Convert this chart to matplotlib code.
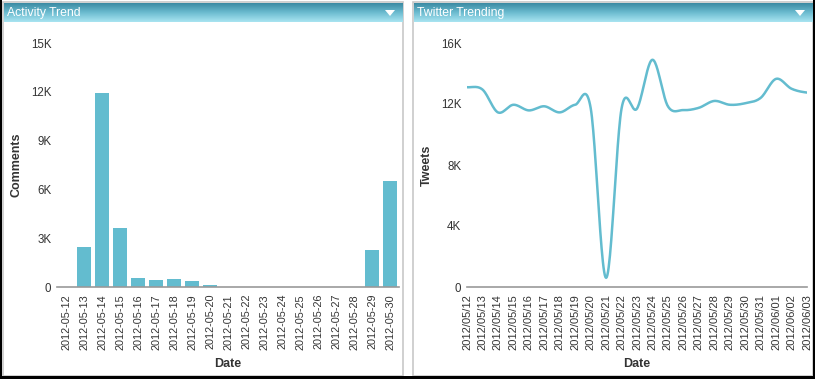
import numpy as np
import matplotlib
matplotlib.use('Agg')
import matplotlib.pyplot as plt
from matplotlib.patches import Rectangle, Polygon
from matplotlib.colors import LinearSegmentedColormap

plt.rcParams['font.family'] = ['Liberation Sans', 'DejaVu Sans']

# activity (comments per day)
act_dates = ['2012-05-12', '2012-05-13', '2012-05-14', '2012-05-15', '2012-05-16',
             '2012-05-17', '2012-05-18', '2012-05-19', '2012-05-20', '2012-05-21',
             '2012-05-22', '2012-05-23', '2012-05-24', '2012-05-25', '2012-05-26',
             '2012-05-27', '2012-05-28', '2012-05-29', '2012-05-30']
comments = [0, 2450, 11950, 3650, 550, 430, 480, 370, 100, 0,
            0, 0, 0, 0, 0, 0, 0, 2250, 6500]
act_ticks = [0, 3000, 6000, 9000, 12000, 15000]
act_ticklabels = ['0', '3K', '6K', '9K', '12K', '15K']

# twitter trend
tw_dates = ['2012/05/12', '2012/05/13', '2012/05/14', '2012/05/15', '2012/05/16',
            '2012/05/17', '2012/05/18', '2012/05/19', '2012/05/20', '2012/05/21',
            '2012/05/22', '2012/05/23', '2012/05/24', '2012/05/25', '2012/05/26',
            '2012/05/27', '2012/05/28', '2012/05/29', '2012/05/30', '2012/05/31',
            '2012/06/01', '2012/06/02', '2012/06/03']
tweets = [13100, 12950, 11450, 11950, 11580, 11850, 11450, 11950, 11750, 600,
          11700, 11700, 14900, 11850, 11600, 11750, 12200, 11950, 12050, 12400,
          13650, 13000, 12750]
tw_ticks = [0, 4000, 8000, 12000, 16000]
tw_ticklabels = ['0', '4K', '8K', '12K', '16K']

bar_color = '#63bccf'
txt = '#333333'
W, H = 815, 379


def spline(y, n=24):
    # catmull-rom smoothing for drawing the line
    y = np.asarray(y, float)
    xs, ys = [], []
    for i in range(len(y) - 1):
        p0 = y[max(i - 1, 0)]
        p1, p2 = y[i], y[i + 1]
        p3 = y[min(i + 2, len(y) - 1)]
        t = np.linspace(0, 1, n, endpoint=False)
        v = 0.5 * ((2 * p1) + (-p0 + p2) * t + (2 * p0 - 5 * p1 + 4 * p2 - p3) * t ** 2
                   + (-p0 + 3 * p1 - 3 * p2 + p3) * t ** 3)
        xs.append(i + t)
        ys.append(v)
    xs.append([len(y) - 1])
    ys.append([y[-1]])
    return np.concatenate(xs), np.concatenate(ys)


def pos(x0, y0, x1, y1):
    return [x0 / W, 1 - y1 / H, (x1 - x0) / W, (y1 - y0) / H]


fig = plt.figure(figsize=(W / 100, H / 100), dpi=100)

# frame / panels
bg = fig.add_axes([0, 0, 1, 1], zorder=-5)
bg.axis('off')
grad = LinearSegmentedColormap.from_list('hdr', ['#3a8aa3', '#6cbcd0', '#a9e4f1'])
g = np.linspace(0, 1, 64).reshape(-1, 1)
for x0, x1, title in [(3, 403, 'Activity Trend'), (413, 813, 'Twitter Trending')]:
    bg.add_patch(Rectangle((x0, 2), x1 - x0, 374, facecolor='white', edgecolor='#c8c8c8', lw=1.2))
    bg.imshow(g, cmap=grad, aspect='auto', extent=(x0 + 1, x1, 22, 3), zorder=2)
    bg.text(x0 + 4, 13, title, color='white', fontsize=8.8, va='center', ha='left', zorder=3)
    tx = x1 - 13
    bg.add_patch(Polygon([(tx - 5, 10), (tx + 5, 10), (tx, 16)], closed=True,
                         facecolor='white', edgecolor='none', zorder=3))
bg.add_patch(Rectangle((0, 0), 2, H, facecolor='black', edgecolor='none'))
bg.add_patch(Rectangle((0, 376), W, 3, facecolor='black', edgecolor='none'))
bg.add_patch(Rectangle((813, 0), 2, H, facecolor='black', edgecolor='none'))
bg.set_xlim(0, W)
bg.set_ylim(H, 0)


def style(ax, xlabel, ylabel, xsize):
    for s in ['top', 'right', 'left']:
        ax.spines[s].set_visible(False)
    ax.spines['bottom'].set_color('#999999')
    ax.spines['bottom'].set_linewidth(1.2)
    ax.tick_params(axis='y', length=0, labelsize=8.3, colors=txt, pad=4)
    ax.tick_params(axis='x', length=0, labelsize=xsize, colors=txt, pad=5)
    ax.set_facecolor('none')
    ax.set_xlabel(xlabel, fontsize=9, fontweight='bold', color=txt, va='center')
    ax.set_ylabel(ylabel, fontsize=9, fontweight='bold', color=txt, va='center')
    ax.xaxis.set_label_coords(0.5, -0.315)
    ax.yaxis.set_label_coords(-0.117, 0.5)


# Activity Trend bar chart
ax1 = fig.add_axes(pos(57, 43, 399, 287))
x = np.arange(len(act_dates))
ax1.bar(x, comments, width=0.83, color=bar_color)
ax1.set_xlim(-0.5, len(act_dates) - 0.5)
ax1.set_ylim(0, 15000)
ax1.set_yticks(act_ticks)
ax1.set_yticklabels(act_ticklabels)
ax1.set_xticks(x)
ax1.set_xticklabels(act_dates, rotation=90)
style(ax1, 'Date', 'Comments', 7.8)

# Twitter Trending line chart
ax2 = fig.add_axes(pos(467, 43, 807, 287))
sx, sy = spline(tweets)
ax2.plot(sx, sy, color=bar_color, lw=1.8, solid_capstyle='round')
ax2.set_xlim(0, len(tw_dates) - 1)
ax2.set_ylim(0, 16000)
ax2.set_yticks(tw_ticks)
ax2.set_yticklabels(tw_ticklabels)
ax2.set_xticks(np.arange(len(tw_dates)))
ax2.set_xticklabels(tw_dates, rotation=90)
style(ax2, 'Date', 'Tweets', 8.0)

fig.savefig('out.png', dpi=100)
